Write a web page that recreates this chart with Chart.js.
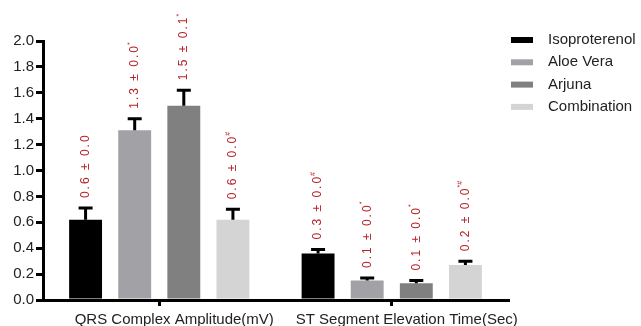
<!DOCTYPE html>
<html>
<head>
<meta charset="utf-8">
<script src="https://cdn.jsdelivr.net/npm/chart.js@4/dist/chart.umd.min.js"></script>
<style>
  html, body { margin: 0; padding: 0; background: #ffffff; }
  #wrap { width: 641px; height: 326px; }
</style>
</head>
<body>
<div id="wrap"><canvas id="c" width="641" height="326"></canvas></div>
<script>
// Group labels on the x axis
const categories = ['QRS Complex Amplitude(mV)', 'ST Segment Elevation Time(Sec)'];

// Treatment groups
const seriesNames = ['Isoproterenol', 'Aloe Vera', 'Arjuna', 'Combination'];

// Mean values per group
const isoproterenol = [0.62, 0.36];
const aloeVera      = [1.31, 0.15];
const arjuna        = [1.50, 0.13];
const combination   = [0.62, 0.27];

// Standard deviations (upper error bars)
const isoproterenolSD = [0.09, 0.03];
const aloeVeraSD      = [0.09, 0.02];
const arjunaSD        = [0.12, 0.02];
const combinationSD   = [0.08, 0.03];

// Significance marks shown after each value label
const isoproterenolSig = ['', '#'];
const aloeVeraSig      = ['*', '*'];
const arjunaSig        = ['*', '*'];
const combinationSig   = ['#', '*#'];

// Y axis tick values
const yTickValues = [0, 0.2, 0.4, 0.6, 0.8, 1.0, 1.2, 1.4, 1.6, 1.8, 2.0];

const FONT = "'Liberation Sans', Arial, sans-serif";
const LABEL_RED = '#b8232a';

// one decimal, cut (not rounded) as in the printed summaries
const cut1 = v => (Math.floor(v * 10 + 1e-9) / 10).toFixed(1);

const errorBarsAndLabels = {
  id: 'errorBarsAndLabels',
  afterDatasetsDraw(chart) {
    const ctx = chart.ctx;
    const yScale = chart.scales.y;
    chart.data.datasets.forEach((ds, di) => {
      const meta = chart.getDatasetMeta(di);
      meta.data.forEach((bar, i) => {
        const mean = ds.data[i];
        const sd = ds.sd[i];
        const x = bar.x;
        const yBar = bar.y;
        const yTop = yScale.getPixelForValue(mean + sd);

        // upper error bar
        ctx.save();
        ctx.strokeStyle = '#000';
        ctx.lineWidth = 3;
        ctx.lineCap = 'butt';
        ctx.beginPath();
        ctx.moveTo(x, yBar);
        ctx.lineTo(x, yTop);
        ctx.moveTo(x - 7, yTop);
        ctx.lineTo(x + 7, yTop);
        ctx.stroke();
        ctx.restore();

        // vertical value label: mean ± SD with significance mark
        const text = cut1(mean) + ' ± ' + cut1(sd);
        ctx.save();
        ctx.translate(x, yTop - 10);
        ctx.rotate(-Math.PI / 2);
        ctx.fillStyle = LABEL_RED;
        ctx.textAlign = 'left';
        ctx.textBaseline = 'middle';
        ctx.font = '12px ' + FONT;
        ctx.letterSpacing = '2px';
        ctx.fillText(text, 0, 0);
        const w = ctx.measureText(text).width;
        if (ds.sig[i]) {
          ctx.font = '7px ' + FONT;
          ctx.letterSpacing = '0px';
          ctx.fillText(ds.sig[i], w - 1, -5);
        }
        ctx.restore();
      });
    });
  }
};

const sideLegend = {
  id: 'sideLegend',
  afterDraw(chart) {
    const ctx = chart.ctx;
    const x0 = 511, y0 = 40, step = 22.3;
    ctx.save();
    chart.data.datasets.forEach((ds, i) => {
      const cy = y0 + i * step;
      ctx.fillStyle = ds.backgroundColor;
      ctx.fillRect(x0, cy - 3, 22, 6);
      ctx.fillStyle = '#222';
      ctx.font = '15px ' + FONT;
      ctx.textAlign = 'left';
      ctx.textBaseline = 'middle';
      ctx.fillText(ds.label, x0 + 37, cy);
    });
    ctx.restore();
  }
};

new Chart(document.getElementById('c'), {
  type: 'bar',
  data: {
    labels: categories,
    datasets: [
      { label: seriesNames[0], data: isoproterenol, sd: isoproterenolSD, sig: isoproterenolSig, backgroundColor: '#000000' },
      { label: seriesNames[1], data: aloeVera,      sd: aloeVeraSD,      sig: aloeVeraSig,      backgroundColor: '#a2a2a6' },
      { label: seriesNames[2], data: arjuna,        sd: arjunaSD,        sig: arjunaSig,        backgroundColor: '#808080' },
      { label: seriesNames[3], data: combination,   sd: combinationSD,   sig: combinationSig,   backgroundColor: '#d4d4d4' }
    ]
  },
  options: {
    responsive: false,
    animation: false,
    devicePixelRatio: 1,
    categoryPercentage: 0.845,
    barPercentage: 0.67,
    layout: { padding: { top: 41, right: 133, left: 0, bottom: 0 } },
    plugins: {
      legend: { display: false },
      tooltip: { enabled: false }
    },
    scales: {
      x: {
        offset: true,
        grid: { offset: false, drawOnChartArea: false, drawTicks: true, tickLength: 6, lineWidth: 3, color: '#000' },
        border: { display: true, color: '#000', width: 3 },
        ticks: { font: { family: FONT, size: 15 }, color: '#222', padding: 5, labelOffset: 15, maxRotation: 0, autoSkip: false },
        afterFit(s) { s.height = 26; }
      },
      y: {
        min: 0,
        max: 2,
        afterBuildTicks(s) { s.ticks = yTickValues.map(v => ({ value: v })); },
        grid: { drawOnChartArea: false, drawTicks: true, tickLength: 7, lineWidth: 3, color: '#000' },
        border: { display: true, color: '#000', width: 3 },
        ticks: { font: { family: FONT, size: 15 }, color: '#222', padding: 2, callback: v => Number(v).toFixed(1) },
        afterFit(s) { s.width = 43; }
      }
    }
  },
  plugins: [errorBarsAndLabels, sideLegend]
});
</script>
</body>
</html>
